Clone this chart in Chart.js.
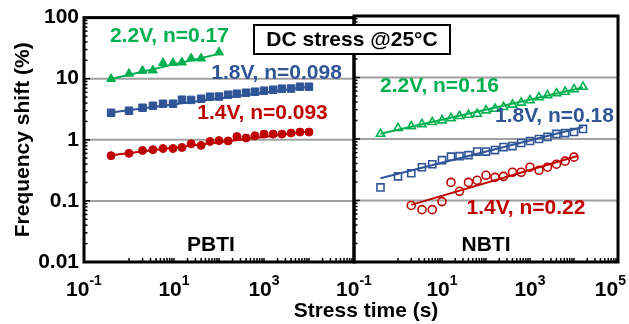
<!DOCTYPE html>
<html><head><meta charset="utf-8">
<script src="https://cdn.jsdelivr.net/npm/chart.js@4.4.1/dist/chart.umd.min.js"></script>
<style>
html,body{margin:0;padding:0;background:#fff;}
#wrap{position:relative;width:629px;height:324px;background:#fff;}
canvas{position:absolute;left:0;top:0;}
</style></head><body>
<div id="wrap"><canvas id="cL" width="629" height="324"></canvas><canvas id="cR" width="629" height="324"></canvas></div>
<script>
// ---------------- data ----------------
// PBTI panel (stress time in s, frequency shift in %)
const pbtiTime22 = [0.4, 1, 2, 3.4, 5.7, 9.5, 15, 24, 40, 100];
const pbtiTime = [0.4, 1, 2, 3.4, 5.7, 9.5, 15, 24, 40, 63, 100, 160, 250, 400, 630, 1000, 1600, 2500, 4000, 6300, 10000];
const pbti22 = [9.9, 12.1, 13.5, 13.7, 18.1, 18.1, 18.5, 21.5, 21.5, 27.0];
const pbti18 = [2.77, 2.99, 3.35, 3.6, 3.89, 3.9, 4.53, 4.5, 4.7, 5.07, 5.1, 5.47, 5.68, 5.9, 6.12, 6.36, 6.6, 6.86, 6.9, 7.4, 7.4];
const pbti14 = [0.55, 0.60, 0.67, 0.69, 0.72, 0.72, 0.75, 0.86, 0.81, 0.94, 0.97, 0.96, 1.13, 1.07, 1.16, 1.24, 1.24, 1.24, 1.29, 1.34, 1.34];
// PBTI power-law fit lines (end points)
const pbtiFitTime22 = [0.4, 100];
const pbtiFit22 = [9.9, 25.5];
const pbtiFitTime = [0.4, 10000];
const pbtiFit18 = [2.8, 7.4];
const pbtiFit14 = [0.56, 1.37];

// NBTI panel
const nbtiTime = [0.4, 1, 2, 3.5, 6, 10, 16, 25, 40, 63, 100, 160, 250, 400, 630, 1000, 1600, 2500, 4000, 6300, 10000, 16000];
const nbtiTime14 = [2, 3.5, 6, 10, 16, 25, 40, 63, 100, 160, 250, 400, 630, 1000, 1600, 2500, 4000, 6300, 10000];
const nbti22 = [1.21, 1.5, 1.61, 1.74, 1.88, 2.0, 2.18, 2.36, 2.47, 2.57, 2.91, 3.1, 3.31, 3.61, 3.89, 4.25, 4.75, 5.13, 5.53, 5.83, 6.43, 7.05];
const nbti18 = [0.163, 0.247, 0.277, 0.347, 0.389, 0.453, 0.516, 0.526, 0.547, 0.624, 0.624, 0.66, 0.74, 0.768, 0.86, 0.927, 1.0, 1.08, 1.21, 1.25, 1.30, 1.46];
const nbti14 = [0.083, 0.071, 0.071, 0.096, 0.197, 0.141, 0.197, 0.213, 0.257, 0.238, 0.247, 0.288, 0.288, 0.348, 0.31, 0.348, 0.389, 0.436, 0.507];
// NBTI power-law fit lines (end points)
const nbtiFitTime = [0.4, 16000];
const nbtiFit22 = [1.22, 6.9];
const nbtiFit18 = [0.23, 1.57];
const nbtiFitTime14 = [2, 12000];
const nbtiFit14 = [0.085, 0.53];

// text
const pbtiLabels = ['2.2V, n=0.17', '1.8V, n=0.098', '1.4V, n=0.093'];
const nbtiLabels = ['2.2V, n=0.16', '1.8V, n=0.18', '1.4V, n=0.22'];
const panelNames = ['PBTI', 'NBTI'];
const boxText = 'DC stress @25°C';
const yTitle = 'Frequency shift (%)';
const xTitle = 'Stress time (s)';
// tick labels
const yTickVals = [0.01, 0.1, 1, 10, 100];
const yTickLabels = ['0.01', '0.1', '1', '10', '100'];
const gridVals = [0.1, 1, 10];
const xTickBaseL = ['10', '10', '10'];
const xTickExpL = ['-1', '1', '3'];
const xTickBaseR = ['10', '10', '10', '10'];
const xTickExpR = ['-1', '1', '3', '5'];

// ---------------- styling ----------------
const FAM = '"Liberation Sans", Arial, Helvetica, sans-serif';
const GREEN = '#00B050', BLUE = '#2F5597', RED = '#C00000', GRID = '#a0a0a0';
const pairs = (xs, ys) => xs.map((t, i) => ({x: t, y: ys[i]}));

function fitSet(xs, ys, color) {
  return {data: pairs(xs, ys), showLine: true, borderColor: color, borderWidth: 2,
          pointRadius: 0, fill: false, order: 2};
}
function markSet(xs, ys, color, style, r, filled) {
  return {data: pairs(xs, ys), showLine: false, pointStyle: style, pointRadius: r,
          pointBorderColor: color, borderColor: color,
          pointBackgroundColor: filled ? color : 'rgba(255,255,255,0)',
          backgroundColor: filled ? color : 'rgba(255,255,255,0)',
          pointBorderWidth: filled ? 1 : 1.6, order: 1};
}

function panelPlugin(cfg) {
  return {
    id: 'panel',
    beforeDatasetsDraw(chart) {
      const {ctx, chartArea: a, scales: {y}} = chart;
      ctx.save();
      ctx.strokeStyle = GRID; ctx.lineWidth = 2;
      gridVals.forEach(v => {
        const py = y.getPixelForValue(v);
        ctx.beginPath(); ctx.moveTo(a.left, py); ctx.lineTo(a.right, py); ctx.stroke();
      });
      ctx.restore();
    },
    afterDraw(chart) {
      const {ctx, chartArea: a, scales: {x, y}} = chart;
      ctx.save();
      ctx.strokeStyle = '#000'; ctx.lineWidth = 1.5;
      for (let d = -2; d <= 1; d++) for (let k = 1; k <= 9; k++) {
        const py = y.getPixelForValue(k * Math.pow(10, d));
        const len = k === 1 ? 6 : 3.5;
        ctx.beginPath(); ctx.moveTo(a.left, py); ctx.lineTo(a.left + len, py); ctx.stroke();
      }
      for (let d = 0; d <= 4; d++) for (let k = 1; k <= 9; k++) {
        const px = x.getPixelForValue(k * Math.pow(10, d));
        ctx.beginPath(); ctx.moveTo(px, a.bottom); ctx.lineTo(px, a.bottom - 4); ctx.stroke();
      }
      ctx.lineWidth = 3;
      ctx.strokeRect(a.left, a.top, a.right - a.left, a.bottom - a.top);
      // x tick labels with superscripts
      ctx.fillStyle = '#000'; ctx.textBaseline = 'alphabetic'; ctx.textAlign = 'left';
      cfg.xBase.forEach((b, i) => {
        const px = x.getPixelForValue(Math.pow(10, parseFloat(cfg.xExp[i])));
        ctx.font = 'bold 21px ' + FAM; const w1 = ctx.measureText(b).width;
        ctx.font = 'bold 14px ' + FAM; const w2 = ctx.measureText(cfg.xExp[i]).width;
        let sx = px - (w1 + w2) / 2;
        if (sx + w1 + w2 > chart.width - 3) sx = chart.width - 3 - w1 - w2;
        ctx.font = 'bold 21px ' + FAM; ctx.fillText(b, sx, a.bottom + 34);
        ctx.font = 'bold 14px ' + FAM; ctx.fillText(cfg.xExp[i], sx + w1, a.bottom + 23);
      });
      // annotations
      ctx.font = 'bold 21px ' + FAM; ctx.textAlign = 'center'; ctx.textBaseline = 'middle';
      cfg.notes.forEach(n => {
        ctx.fillStyle = n.color;
        ctx.fillText(n.text, x.getPixelForValue(n.t), y.getPixelForValue(n.v));
      });
      ctx.restore();
      if (cfg.extra) cfg.extra(chart);
    }
  };
}

function options(padding, showY) {
  const yScale = {type: 'logarithmic', min: 0.01, max: 100, display: showY,
          afterBuildTicks: s => { s.ticks = yTickVals.map(v => ({value: v})); },
          grid: {display: false, drawTicks: false}, border: {display: false},
          ticks: {font: {family: FAM, size: 21, weight: 'bold'}, color: '#000', padding: 5,
                  autoSkip: false,
                  callback: v => { const i = yTickVals.indexOf(v); return i >= 0 ? yTickLabels[i] : ''; }},
          title: {display: true, text: yTitle, color: '#000',
                  font: {family: FAM, size: 21, weight: 'bold'}, padding: {top: 11, bottom: 0}}};
  if (showY) yScale.afterFit = s => { s.width = 84; };
  return {
    responsive: false, animation: false, devicePixelRatio: 1,
    layout: {padding},
    plugins: {legend: {display: false}, tooltip: {enabled: false}},
    scales: {
      x: {type: 'logarithmic', min: 0.1, max: 1e5, display: false},
      y: yScale
    }
  };
}

new Chart(document.getElementById('cL'), {
  type: 'scatter',
  data: {datasets: [
    fitSet(pbtiFitTime22, pbtiFit22, GREEN),
    fitSet(pbtiFitTime, pbtiFit18, BLUE),
    fitSet(pbtiFitTime, pbtiFit14, RED),
    markSet(pbtiTime22, pbti22, GREEN, 'triangle', 5.2, true),
    markSet(pbtiTime, pbti18, BLUE, 'rect', 5.3, true),
    markSet(pbtiTime, pbti14, RED, 'circle', 4, true)
  ]},
  options: options({left: 0, right: 275, top: 16, bottom: 62}, true),
  plugins: [panelPlugin({
    xBase: xTickBaseL, xExp: xTickExpL,
    notes: [
      {text: pbtiLabels[0], t: 7.9, v: 48.8, color: GREEN},
      {text: pbtiLabels[1], t: 1900, v: 12.5, color: BLUE},
      {text: pbtiLabels[2], t: 926, v: 2.77, color: RED},
      {text: panelNames[0], t: 66, v: 0.019, color: '#000'}
    ]
  })]
});

new Chart(document.getElementById('cR'), {
  type: 'scatter',
  data: {datasets: [
    fitSet(nbtiFitTime, nbtiFit22, GREEN),
    fitSet(nbtiFitTime, nbtiFit18, BLUE),
    fitSet(nbtiFitTime14, nbtiFit14, RED),
    markSet(nbtiTime, nbti22, GREEN, 'triangle', 4.8, false),
    markSet(nbtiTime, nbti18, BLUE, 'rect', 5, false),
    markSet(nbtiTime14, nbti14, RED, 'circle', 4, false)
  ]},
  options: options({left: 354, right: 11, top: 16, bottom: 62}, false),
  plugins: [panelPlugin({
    xBase: xTickBaseR, xExp: xTickExpR,
    notes: [
      {text: nbtiLabels[0], t: 8.8, v: 7.1, color: GREEN},
      {text: nbtiLabels[1], t: 3600, v: 2.38, color: BLUE},
      {text: nbtiLabels[2], t: 811, v: 0.074, color: RED},
      {text: panelNames[1], t: 100, v: 0.019, color: '#000'}
    ],
    extra(chart) {
      const ctx = chart.ctx;
      ctx.save();
      // DC stress box
      ctx.fillStyle = '#fff'; ctx.fillRect(254, 25, 196, 29);
      ctx.strokeStyle = '#000'; ctx.lineWidth = 2; ctx.strokeRect(254, 25, 196, 29);
      ctx.fillStyle = '#000'; ctx.font = 'bold 21px ' + FAM;
      ctx.textAlign = 'center'; ctx.textBaseline = 'middle';
      ctx.fillText(boxText, 352, 40.5);
      // shared x-axis title
      ctx.fillText(xTitle, 366, 311);
      ctx.restore();
    }
  })]
});
</script>
</body></html>
